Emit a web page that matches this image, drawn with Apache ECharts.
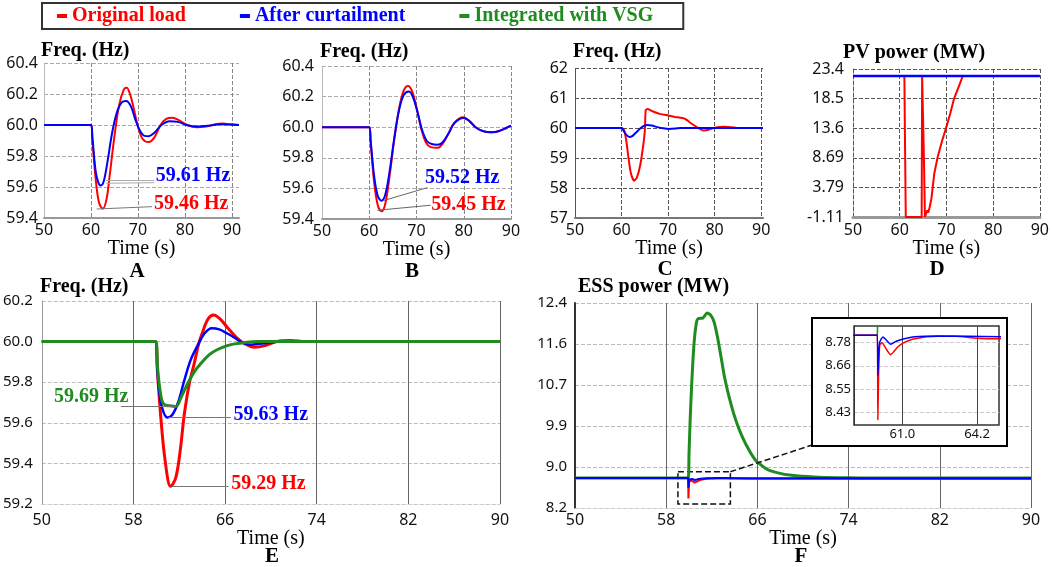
<!DOCTYPE html>
<html><head><meta charset="utf-8">
<script src="https://cdn.jsdelivr.net/npm/echarts@6.0.0/dist/echarts.min.js"></script>
<style>html,body{margin:0;padding:0;background:#fff}#c{width:1052px;height:567px}</style>
</head><body><div id="c"></div>
<script>
// ---------------- data ----------------
const seriesNames = ['Original load', 'After curtailment', 'Integrated with VSG'];
const timeTicks = [50, 60, 70, 80, 90];
const timeTicksEF = [50, 58, 66, 74, 82, 90];
const freqTicksAB = [59.4, 59.6, 59.8, 60.0, 60.2, 60.4];
const freqTicksC = [57, 58, 59, 60, 61, 62];
const pvTicks = [-1.11, 3.79, 8.69, 13.6, 18.5, 23.4];
const freqTicksE = [59.2, 59.4, 59.6, 59.8, 60.0, 60.2];
const essTicks = [8.2, 9.04, 9.88, 10.72, 11.56, 12.4];
const insetTimeTicks = [61.0, 64.2];
const insetEssTicks = [8.43, 8.547, 8.664, 8.781];

const aLabels = ['59.61 Hz', '59.46 Hz'];
const bLabels = ['59.52 Hz', '59.45 Hz'];
const eLabels = ['59.29 Hz', '59.63 Hz', '59.69 Hz'];

// Panel A
const aRed = [[50,60],[60,60],[60.3,59.9],[61,59.65],[61.7,59.5],[62.5,59.46],[63.3,59.52],[64,59.68],[65,59.93],[66,60.13],[67,60.23],[67.6,60.24],[68.3,60.2],[69,60.12],[70,59.99],[71,59.91],[72.3,59.89],[73.5,59.92],[74.8,60.0],[76,60.04],[77.3,60.047],[78.8,60.03],[80.5,60.0],[82.5,59.985],[84.5,59.99],[86.5,60.005],[88,60.01],[89.5,60.005],[91.5,60]];
const aBlue = [[50,60],[60,60],[60.3,59.92],[61,59.7],[61.6,59.625],[62.1,59.61],[62.7,59.635],[63.5,59.76],[64.5,59.95],[65.5,60.08],[66.5,60.145],[67.5,60.155],[68.5,60.12],[69.5,60.03],[70.5,59.96],[71.4,59.93],[72.3,59.928],[73.5,59.95],[75,60.0],[76.7,60.025],[78.5,60.02],[80.5,59.998],[82.5,59.99],[85,59.995],[87.5,60.005],[91.5,60]];
// Panel B
const bRed = [[50,60],[60,60],[60.3,59.9],[61,59.65],[61.8,59.49],[62.6,59.45],[63.4,59.5],[64.3,59.68],[65.3,59.92],[66.3,60.12],[67.3,60.24],[68.2,60.27],[69,60.24],[70,60.13],[71,59.99],[72,59.9],[73,59.87],[74.4,59.865],[75.5,59.89],[76.8,59.96],[78,60.03],[79.9,60.065],[81.2,60.04],[82.5,60.0],[84,59.975],[85.9,59.967],[87.5,59.975],[89,59.995],[90,60.01]];
const bBlue = [[50,60],[60,60],[60.3,59.91],[61,59.69],[61.8,59.55],[62.6,59.52],[63.4,59.56],[64.3,59.71],[65.3,59.93],[66.3,60.11],[67.3,60.21],[68.4,60.233],[69.2,60.2],[70.2,60.1],[71.2,59.98],[72.2,59.91],[73.2,59.89],[74.4,59.885],[75.5,59.9],[76.8,59.96],[78,60.025],[79.9,60.06],[81.2,60.04],[82.5,60.0],[84,59.975],[85.9,59.967],[87.5,59.975],[89,59.995],[90,60.01]];
// Panel C
const cRed = [[50,60],[60,60],[60.5,59.95],[61,59.6],[61.5,59.0],[62,58.5],[62.7,58.24],[63.3,58.35],[64,58.75],[64.6,59.35],[65,59.9],[65.2,60.6],[65.6,60.63],[66.5,60.57],[68,60.48],[69.6,60.43],[71.5,60.37],[73.6,60.31],[75,60.15],[76.5,60.0],[77.5,59.92],[78.7,59.94],[79.8,60.0],[82,60.04],[84.1,60.02],[85,60.0],[90.4,60]];
const cBlue = [[50,60],[60,60],[60.4,59.92],[61,59.78],[61.7,59.7],[62.3,59.73],[63,59.83],[64,59.98],[64.8,60.07],[65.6,60.1],[66.5,60.08],[67.7,60.03],[69,59.99],[70.2,59.97],[71.5,59.98],[72.7,60.0],[90.4,60]];
// Panel D
const dRed = [[50,22.24],[61.0,22.24],[61.15,10],[61.3,-1.11],[64.7,-1.11],[64.8,22.24],[65.05,22.24],[65.2,8],[65.4,-1.11],[65.7,-0.9],[65.9,0.0],[66.1,-0.4],[66.4,0.5],[66.8,2.0],[67.4,6.07],[68.1,8.75],[69,11.3],[69.9,13.57],[70.8,16],[71.6,18.4],[72.6,20.4],[73.5,22.24],[90,22.24]];
const dBlue = [[50,22.24],[90,22.24]];
// Panel E
const eRed = [[50,60],[59.9,60],[60.1,59.85],[60.4,59.62],[60.8,59.4],[61.25,59.287],[61.7,59.33],[62.1,59.47],[62.45,59.646],[62.9,59.8],[63.3,59.89],[63.7,59.99],[64.0,60.04],[64.5,60.11],[65.0,60.131],[65.6,60.11],[66.2,60.07],[67,60.02],[67.7,59.99],[68.6,59.972],[69.5,59.98],[70.5,60.0],[71.7,60.005],[73,60.0],[90,60]];
const eBlue = [[50,60],[59.9,60],[60.1,59.85],[60.4,59.7],[60.96,59.626],[61.4,59.64],[61.9,59.7],[62.45,59.81],[63.0,59.91],[63.6,59.98],[64.2,60.04],[64.84,60.066],[65.5,60.06],[66.2,60.04],[66.8,60.02],[67.5,59.995],[68.2,59.985],[69.2,59.99],[71,60.0],[90,60]];
const eGreen = [[50,60],[59.95,60],[60.1,59.88],[60.3,59.77],[60.55,59.7],[60.9,59.685],[61.3,59.683],[61.7,59.68],[62.2,59.73],[62.74,59.794],[63.3,59.85],[63.9,59.893],[64.6,59.935],[65.3,59.96],[66.2,59.98],[67,59.99],[68.8,60.0],[90,60]];
// Panel F (also used by the zoomed inset)
const fRed = [[50,8.817],[59.93,8.817],[59.95,8.393],[59.98,8.6],[60.03,8.766],[60.13,8.78],[60.3,8.75],[60.5,8.72],[60.8,8.758],[61.03,8.778],[61.53,8.8],[62.53,8.812],[63.25,8.812],[64.2,8.803],[65.15,8.8],[70,8.8],[90,8.8]];
const fBlue = [[50,8.817],[59.93,8.817],[59.95,8.615],[59.98,8.7],[60.03,8.783],[60.17,8.809],[60.3,8.795],[60.5,8.772],[60.74,8.787],[61.0,8.797],[61.53,8.81],[62.53,8.814],[65.15,8.81],[90,8.81]];
const fGreen = [[50,8.817],[59.93,8.817],[60.0,9.3],[60.1,10.0],[60.25,10.8],[60.45,11.6],[60.65,12.0],[60.8,12.08],[61.2,12.09],[61.6,12.195],[61.9,12.15],[62.2,12.01],[62.5,11.7],[62.8,11.31],[63.1,10.9],[63.5,10.49],[63.9,10.15],[64.4,9.81],[65,9.5],[65.8,9.19],[66.8,9.0],[67.8,8.92],[69,8.87],[71,8.835],[73,8.82],[75,8.817],[90,8.817]];

// ---------------- styling ----------------
const RED = '#ff0000', BLUE = '#0000ff', GREEN = '#1e8c1e';
const SANS = '"Noto Sans", "DejaVu Sans", sans-serif';
const SERIF = '"Liberation Serif", "Times New Roman", serif';

const grids = [
  {left: 44, top: 63, width: 195, height: 155},   // A
  {left: 322, top: 66, width: 189, height: 153},  // B
  {left: 575, top: 68, width: 188, height: 150},  // C
  {left: 853, top: 69, width: 189, height: 148},  // D
  {left: 41, top: 301, width: 459, height: 203},  // E
  {left: 575, top: 303, width: 456, height: 205}, // F
  {left: 854, top: 326, width: 145, height: 99, show: true, backgroundColor: '#fff', borderColor: '#333', borderWidth: 1.5, z: 60} // inset
];

function xAx(gi, min, max, ticks, o) {
  return {
    type: 'value', gridIndex: gi, min: min, max: max, z: o.z || 0,
    axisLabel: {customValues: ticks, fontFamily: SANS, fontSize: o.fs || 16, color: '#111', margin: o.lm, formatter: o.fmt || (v => String(v))},
    axisTick: {show: false, customValues: ticks},
    axisLine: {show: o.al !== false, onZero: false, lineStyle: {color: o.alc || '#999', width: o.alw || 2, type: o.alt || 'solid'}},
    splitLine: {show: true, lineStyle: {color: o.slc || '#777', type: o.slt || 'dashed', width: 1}},
    name: o.name || '', nameLocation: 'middle', nameGap: o.ng || 20,
    nameTextStyle: {fontFamily: SERIF, fontSize: 20, color: '#000'}
  };
}
function yAx(gi, min, max, ticks, o) {
  return {
    type: 'value', gridIndex: gi, min: min, max: max, z: o.z || 0,
    axisLabel: {customValues: ticks, fontFamily: SANS, fontSize: o.fs || 16, color: '#111', margin: o.lm, formatter: o.fmt},
    axisTick: {show: false, customValues: ticks},
    axisLine: {show: true, onZero: false, lineStyle: {color: o.alc || '#bbb', width: o.alw || 1, type: o.alt || 'solid'}},
    splitLine: {show: true, lineStyle: {color: o.slc || '#aaa', type: o.slt || 'dashed', width: 1}}
  };
}
const f1 = v => v.toFixed(1);
const f0 = v => v.toFixed(0);
const f2 = v => v.toFixed(2);
const fp = v => Number(v).toPrecision(3);

const xAxes = [
  xAx(0, 50, 91.5, timeTicks, {lm: 4, slc: '#888', name: 'Time (s)', ng: 19}),
  xAx(1, 50, 90, timeTicks, {lm: 4, slc: '#888', name: 'Time (s)', ng: 18}),
  xAx(2, 50, 90.4, timeTicks, {lm: 4, slc: '#555', alc: '#777', name: 'Time (s)', ng: 19}),
  xAx(3, 50, 90, timeTicks, {lm: 5, slc: '#555', alc: '#999', alw: 3, name: 'Time (s)', ng: 19}),
  xAx(4, 50, 90, timeTicksEF, {lm: 8, slc: '#666', slt: 'solid', alc: '#ccc', alw: 1, alt: 'dashed', name: 'Time (s)', ng: 22}),
  xAx(5, 50, 90, timeTicksEF, {lm: 4, slc: '#666', slt: 'solid', alc: '#ccc', alw: 1, alt: 'dashed', name: 'Time (s)', ng: 18}),
  xAx(6, 58.93, 65.14, insetTimeTicks, {lm: 3, fs: 13, fmt: f1, slc: '#444', slt: 'solid', al: false, z: 61})
];
const yAxes = [
  yAx(0, 59.4, 60.4, freqTicksAB, {lm: 6, fmt: f1}),
  yAx(1, 59.4, 60.4, freqTicksAB, {lm: 8, fmt: f1}),
  yAx(2, 57, 62, freqTicksC, {lm: 7, fmt: f0, slc: '#555', alc: '#555', alt: 'dashed'}),
  yAx(3, -1.11, 23.4, pvTicks, {lm: 9, fmt: fp, slc: '#555', alc: '#555', alt: 'dashed'}),
  yAx(4, 59.2, 60.2, freqTicksE, {lm: 9, fs: 15, fmt: f1, slc: '#bbb', alc: '#999'}),
  yAx(5, 8.2, 12.4, essTicks, {lm: 8, fs: 15, fmt: f1, slc: '#bbb', alc: '#333', alw: 2}),
  yAx(6, 8.366, 8.864, insetEssTicks, {lm: 3, fs: 13, fmt: f2, slc: '#ccc', alc: '#333', z: 61})
];

function line(name, gi, data, color, width, o) {
  o = o || {};
  const s = {
    type: 'line', name: name, xAxisIndex: gi, yAxisIndex: gi, data: data,
    showSymbol: false, symbol: 'none', smooth: o.smooth === undefined ? 0.35 : o.smooth,
    lineStyle: {color: color, width: width}, itemStyle: {color: color},
    z: o.z || 2, animation: false, silent: true, clip: true
  };
  if (o.markLine) s.markLine = o.markLine;
  if (o.markPoint) s.markPoint = o.markPoint;
  if (o.markArea) s.markArea = o.markArea;
  return s;
}
function leaders(pairs, color, width) {
  return {
    silent: true, symbol: ['none', 'none'], animation: false, label: {show: false},
    lineStyle: {color: color || '#777', width: width || 1, type: 'solid'},
    data: pairs.map(p => [{coord: p[0]}, {coord: p[1]}])
  };
}
function texts(items, color, pos) {
  return {
    silent: true, symbol: 'rect', symbolSize: 1, animation: false,
    itemStyle: {color: 'rgba(0,0,0,0)'},
    label: {show: true, position: pos || 'right', distance: 0, fontFamily: SERIF, fontWeight: 'bold', fontSize: 20, color: color},
    data: items.map(it => ({coord: it[0], label: {formatter: it[1]}}))
  };
}

const series = [
  // A
  line(seriesNames[0], 0, aRed, RED, 2, {
    markLine: leaders([[[61.2, 59.458], [73.0, 59.473]]], '#777'),
    markPoint: texts([[[73.3, 59.49], aLabels[1]]], RED)
  }),
  line(seriesNames[1], 0, aBlue, BLUE, 2, {
    markLine: leaders([[[63.2, 59.643], [73.5, 59.643]], [[63.2, 59.624], [73.5, 59.628]]], '#aaa'),
    markPoint: texts([[[73.7, 59.675], aLabels[0]]], BLUE)
  }),
  // B
  line(seriesNames[0], 1, bRed, RED, 2, {
    markLine: leaders([[[61.7, 59.457], [73.0, 59.49]]], '#666'),
    markPoint: texts([[[73.0, 59.49], bLabels[1]]], RED)
  }),
  line(seriesNames[1], 1, bBlue, BLUE, 2, {
    markLine: leaders([[[63.0, 59.52], [72.3, 59.605]]], '#666'),
    markPoint: texts([[[71.7, 59.672], bLabels[0]]], BLUE)
  }),
  // C
  line(seriesNames[0], 2, cRed, RED, 2, {smooth: 0.2}),
  line(seriesNames[1], 2, cBlue, BLUE, 2, {smooth: 0.3}),
  // D
  line(seriesNames[0], 3, dRed, RED, 2, {smooth: false}),
  line(seriesNames[1], 3, dBlue, BLUE, 2.5, {smooth: false}),
  // E
  line(seriesNames[0], 4, eRed, RED, 3, {
    markLine: leaders([[[61.35, 59.287], [66.3, 59.287]]], '#777'),
    markPoint: texts([[[66.5, 59.30], eLabels[0]]], RED)
  }),
  line(seriesNames[1], 4, eBlue, BLUE, 2.5, {
    markLine: {
      silent: true, symbol: ['none', 'none'], animation: false, label: {show: false},
      lineStyle: {color: '#777', width: 1, type: 'solid'},
      data: [
        [{coord: [61.05, 59.625]}, {coord: [66.5, 59.625]}],
        [{yAxis: 59.5, lineStyle: {color: '#111', width: 1.5, type: 'solid'}}, {xAxis: 90, yAxis: 59.5}]
      ]
    },
    markPoint: texts([[[66.7, 59.64], eLabels[1]]], BLUE)
  }),
  line(seriesNames[2], 4, eGreen, GREEN, 3, {
    z: 3,
    markLine: leaders([[[56.9, 59.68], [61.65, 59.68]]], '#777'),
    markPoint: texts([[[57.6, 59.727], eLabels[2]]], GREEN, 'left')
  }),
  // F
  line(seriesNames[2], 5, fGreen, GREEN, 3, {smooth: 0.2, z: 2}),
  line(seriesNames[0], 5, fRed, RED, 2, {smooth: false, z: 3}),
  line(seriesNames[1], 5, fBlue, BLUE, 2, {smooth: false, z: 4,
    markArea: {
      silent: true, animation: false,
      itemStyle: {color: 'rgba(0,0,0,0)', borderColor: '#111', borderWidth: 1.5, borderType: 'dashed'},
      data: [[{coord: [59.03, 8.943]}, {coord: [63.63, 8.28]}]]
    },
    markLine: {
      silent: true, symbol: ['none', 'none'], animation: false, label: {show: false},
      lineStyle: {color: '#111', width: 1.5, type: 'dashed'},
      data: [[{coord: [63.63, 8.943]}, {coord: [70.8, 9.49]}]]
    }
  }),
  // Inset
  line(seriesNames[2], 6, fGreen, GREEN, 1.5, {smooth: false, z: 62}),
  line(seriesNames[0], 6, fRed, RED, 1.5, {smooth: 0.2, z: 63}),
  line(seriesNames[1], 6, fBlue, BLUE, 1.5, {smooth: 0.2, z: 64})
];

function gtext(x, y, text, font, align) {
  return {type: 'text', x: x, y: y, z: 100, silent: true,
    style: {text: text, font: font, fill: '#000', align: align || 'left', verticalAlign: 'middle', textAlign: align || 'left', textVerticalAlign: 'middle'}};
}
const TF = 'bold 20px "Liberation Serif", serif';
const LF = 'bold 21px "Liberation Serif", serif';

const option = {
  backgroundColor: '#fff',
  animation: false,
  color: [RED, BLUE, GREEN],
  grid: grids,
  xAxis: xAxes,
  yAxis: yAxes,
  legend: {
    left: 42, top: 3, padding: [3, 30, 3, 15], itemGap: 54,
    borderColor: '#333', borderWidth: 2, selectedMode: false,
    icon: 'rect', itemWidth: 10, itemHeight: 4,
    textStyle: {fontFamily: SERIF, fontWeight: 'bold', fontSize: 20},
    data: [
      {name: seriesNames[0], textStyle: {color: RED}},
      {name: seriesNames[1], textStyle: {color: BLUE}},
      {name: seriesNames[2], textStyle: {color: GREEN}}
    ]
  },
  graphic: [
    {type: 'rect', z: 50, silent: true, shape: {x: 812, y: 318, width: 195, height: 128}, style: {fill: '#fff', stroke: '#000', lineWidth: 2}},
    gtext(41, 51, 'Freq. (Hz)', TF),
    gtext(320, 52, 'Freq. (Hz)', TF),
    gtext(573, 52, 'Freq. (Hz)', TF),
    gtext(843, 53, 'PV power (MW)', TF),
    gtext(40, 287, 'Freq. (Hz)', TF),
    gtext(578, 287, 'ESS power (MW)', TF),
    gtext(137, 272, 'A', LF, 'center'),
    gtext(412, 272, 'B', LF, 'center'),
    gtext(665, 270, 'C', LF, 'center'),
    gtext(937, 270, 'D', LF, 'center'),
    gtext(272, 557, 'E', LF, 'center'),
    gtext(801, 557, 'F', LF, 'center')
  ],
  series: series
};
const chart = echarts.init(document.getElementById('c'), null, {renderer: 'canvas'});
chart.setOption(option);
</script>
</body></html>
